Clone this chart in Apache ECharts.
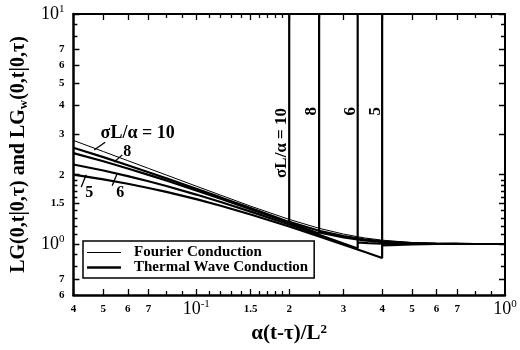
<!DOCTYPE html>
<html><head><meta charset="utf-8">
<script src="https://cdn.jsdelivr.net/npm/echarts@6/dist/echarts.min.js"></script>
<style>html,body{margin:0;padding:0;background:#fff}#c{width:520px;height:350px}</style>
</head><body><div id="c"></div>
<script>
// ---------------- data ----------------
const fourierX = [0.04,0.05,0.06,0.07,0.08,0.1,0.12,0.15,0.2,0.25,0.3,0.35,0.4,0.5,0.6,0.7,0.8,1.0];
const fourierY = [2.821,2.523,2.303,2.132,1.995,1.784,1.630,1.460,1.279,1.170,1.104,1.063,1.039,1.014,1.005,1.002,1.001,1.000];

const SPIKE = 20; // wave-front pulse, far above the plotted range
const wave10X = [0.04,0.05,0.06,0.07,0.08,0.1,0.12,0.15,0.2,0.2,0.2,0.25,0.3,0.35,0.4,0.5,0.6,0.7,0.8,1.0];
const wave10Y = [2.620,2.385,2.200,2.051,1.929,1.738,1.594,1.432,1.246,SPIKE,1.248,1.142,1.082,1.047,1.027,1.009,1.004,1.001,1.000,1.000];
const wave8X  = [0.04,0.05,0.06,0.07,0.08,0.1,0.12,0.15,0.2,0.25,0.25,0.25,0.3,0.35,0.4,0.5,0.6,0.7,0.8,1.0];
const wave8Y  = [2.484,2.290,2.130,1.998,1.887,1.710,1.573,1.417,1.236,1.110,SPIKE,1.124,1.068,1.037,1.020,1.006,1.002,1.001,1.000,1.000];
const wave6X  = [0.04,0.05,0.06,0.07,0.08,0.1,0.12,0.15,0.2,0.25,0.3,0.3333,0.3333,0.3333,0.36,0.4,0.5,0.6,0.7,0.8,1.0];
const wave6Y  = [2.216,2.086,1.973,1.874,1.786,1.640,1.523,1.382,1.215,1.096,1.005,0.956,SPIKE,1.016,1.009,1.004,1.000,1.000,1.000,1.000,1.000];
const wave5X  = [0.04,0.05,0.06,0.07,0.08,0.1,0.12,0.15,0.2,0.25,0.3,0.35,0.4,0.4,0.4,0.45,0.5,0.6,0.7,0.8,1.0];
const wave5Y  = [2.004,1.911,1.828,1.752,1.684,1.566,1.466,1.344,1.192,1.079,0.993,0.925,0.869,SPIKE,0.987,0.991,0.995,1.000,1.001,1.000,1.000];

const xMajorTicks = [0.04,0.05,0.06,0.07,0.1,0.15,0.2,0.3,0.4,0.5,0.6,0.7,1];
const xTickLabels = ['4','5','6','7','10|-1','1.5','2','3','4','5','6','7','10|0'];
const xMinorTicks = [0.08,0.09,0.11,0.12,0.13,0.14,0.16,0.17,0.18,0.19,0.25,0.8,0.9];
const yMajorTicks = [0.6,0.7,1,1.5,2,3,4,5,6,7,10];
const yTickLabels = ['6','7','10|0','1.5','2','3','4','5','6','7','10|1'];
const yMinorTicks = [0.8,0.9,1.1,1.2,1.3,1.4,1.6,1.7,1.8,1.9,8,9];

// annotations, anchored in data coordinates
const curveLabels = [
  {text:'σL/α = 10', x:0.0490, y:3.03, align:'left'},
  {text:'8', x:0.0580, y:2.51, align:'left'},
  {text:'5', x:0.0450, y:1.67, align:'center'},
  {text:'6', x:0.0567, y:1.67, align:'center'}
];
const leaderLines = [
  [0.0467,2.56,0.0507,2.77],
  [0.0542,2.27,0.0576,2.44],
  [0.0424,1.77,0.0440,2.00],
  [0.0534,1.79,0.0554,2.02]
];
const frontLabels = [
  {text:'σL/α = 10', x:0.189, y:2.75},
  {text:'8', x:0.236, y:3.78},
  {text:'6', x:0.3154, y:3.78},
  {text:'5', x:0.3797, y:3.78}
];

// ---------------- chart ----------------
const SERIF = '"Liberation Serif", "Times New Roman", serif';
const X0 = 0.04, X1 = 1, Y0 = 0.6, Y1 = 10;
const pairs = (xs, ys) => xs.map((x, i) => [x, ys[i]]);
const fmt = (ticks, labels) => v => {
  let best = 0, d = Infinity;
  ticks.forEach((t, i) => { const dd = Math.abs(Math.log(t) - Math.log(v)); if (dd < d) { d = dd; best = i; } });
  const lab = labels[best];
  if (lab.indexOf('|') >= 0) { const p = lab.split('|'); return '{b|' + p[0] + '}{s|' + p[1] + '}'; }
  return '{n|' + lab + '}';
};
const rich = {
  n: {fontFamily: SERIF, fontWeight: 'bold', fontSize: 11, color: '#000', lineHeight: 20},
  b: {fontFamily: SERIF, fontWeight: 'normal', fontSize: 18, color: '#000', lineHeight: 20},
  s: {fontFamily: SERIF, fontWeight: 'normal', fontSize: 11, color: '#000', lineHeight: 12, verticalAlign: 'top'}
};
function axis(kind, pos, lineW, ticks, labels) {
  const a = {
    type: 'log', logBase: 10, position: pos,
    min: kind === 'x' ? X0 : Y0, max: kind === 'x' ? X1 : Y1,
    splitLine: {show: false}, minorTick: {show: false}, minorSplitLine: {show: false},
    axisLine: {show: true, onZero: false, lineStyle: {color: '#000', width: lineW}},
    axisTick: {show: false},
    axisLabel: {show: false},
    axisPointer: {show: false}
  };
  if (labels) {
    a.axisLabel = {show: true, customValues: ticks.slice(), formatter: fmt(ticks, labels), rich: rich,
      margin: kind === 'x' ? 4 : 9};
  }
  return a;
}
const xMain = axis('x', 'bottom', 2.5, xMajorTicks, xTickLabels);
xMain.name = 'α(t-τ)/L{sup|2}';
xMain.nameLocation = 'middle';
xMain.nameGap = 28;
xMain.nameTextStyle = {fontFamily: SERIF, fontWeight: 'bold', fontSize: 21, color: '#000', lineHeight: 22,
  rich: {sup: {fontFamily: SERIF, fontWeight: 'bold', fontSize: 13, lineHeight: 12, verticalAlign: 'top', color: '#000'}}};
const yMain = axis('y', 'left', 2.5, yMajorTicks, yTickLabels);
yMain.name = 'LG(0,t|0,τ) and LG{sub|w}(0,t|0,τ)';
yMain.nameLocation = 'middle';
yMain.nameRotate = 90;
yMain.nameGap = 43;
yMain.nameTextStyle = {fontFamily: SERIF, fontWeight: 'bold', fontSize: 20, color: '#000', lineHeight: 22,
  rich: {sub: {fontFamily: SERIF, fontWeight: 'bold', fontSize: 13, lineHeight: 22, verticalAlign: 'bottom', color: '#000'}}};

const waves = [[wave10X, wave10Y], [wave8X, wave8Y], [wave6X, wave6Y], [wave5X, wave5Y]];

const baseSeries = [
  {name: 'Fourier Conduction', type: 'line', xAxisIndex: 0, yAxisIndex: 0, data: pairs(fourierX, fourierY),
    symbol: 'none', lineStyle: {color: '#000', width: 1}, itemStyle: {color: '#000'}, z: 3}
].concat(waves.map(w => ({
  name: 'Thermal Wave Conduction', type: 'line', xAxisIndex: 0, yAxisIndex: 0, data: pairs(w[0], w[1]),
  symbol: 'none', lineStyle: {color: '#000', width: 2.2}, itemStyle: {color: '#000'}, z: 2
})));

const chart = echarts.init(document.getElementById('c'), null, {renderer: 'canvas'});
chart.setOption({
  animation: false,
  backgroundColor: '#fff',
  color: ['#000'],
  grid: {left: 71, right: 15, top: 14, bottom: 53, containLabel: false},
  xAxis: [xMain, axis('x', 'top', 2)],
  yAxis: [yMain, axis('y', 'right', 2)],
  legend: {
    left: 83, top: 241, orient: 'vertical',
    data: [
      {name: 'Fourier Conduction', icon: 'path://M0,0L34,0L34,1L0,1Z'},
      {name: 'Thermal Wave Conduction', icon: 'path://M0,0L34,0L34,2.5L0,2.5Z'}
    ],
    borderColor: '#000', borderWidth: 1.5, borderRadius: 0,
    padding: [4, 6, 3, 4],
    itemWidth: 34, itemHeight: 10, itemGap: 0,
    textStyle: {fontFamily: SERIF, fontWeight: 'bold', fontSize: 15, color: '#000', padding: [0, 0, 0, 8]}
  },
  series: baseSeries
});

const px = (x, y) => chart.convertToPixel({xAxisIndex: 0, yAxisIndex: 0}, [x, y]);

// ---- tick marks: short segments in data space, drawn by a 'lines' series on the same log axes ----
// pixels per decade, measured through the library at interior points
const pyDec = px(0.1, 1)[1] - px(0.1, 10)[1];
const pxDec = px(0.5, 1)[0] - px(0.05, 1)[0];
const yStep = len => Math.pow(10, len / pyDec);
const xStep = len => Math.pow(10, len / pxDec);
const tickSegs = [];
[[xMajorTicks, 6], [xMinorTicks, 4]].forEach(([vals, len]) => vals.forEach(v => {
  tickSegs.push({coords: [[v, Y0], [v, Y0 * yStep(len)]]});
  tickSegs.push({coords: [[v, Y1], [v, Y1 / yStep(len)]]});
}));
[[yMajorTicks, 6], [yMinorTicks, 4]].forEach(([vals, len]) => vals.forEach(v => {
  tickSegs.push({coords: [[X0, v], [X0 * xStep(len), v]]});
  tickSegs.push({coords: [[X1, v], [X1 / xStep(len), v]]});
}));
const tickSeries = {
  type: 'lines', coordinateSystem: 'cartesian2d', xAxisIndex: 0, yAxisIndex: 0,
  polyline: false, silent: true, animation: false, z: 6,
  effect: {show: false},
  lineStyle: {color: '#000', width: 1.3, opacity: 1, curveness: 0},
  data: tickSegs
};

// ---- annotations ----
const g = [];
const seg = (x1, y1, x2, y2, w) => ({type: 'line', silent: true,
  shape: {x1: x1, y1: y1, x2: x2, y2: y2}, style: {stroke: '#000', lineWidth: w}});
curveLabels.forEach(l => {
  const p = px(l.x, l.y);
  const fs = l.text.length > 2 ? 18 : 16;
  g.push({type: 'text', x: p[0], y: p[1], silent: true,
    style: {text: l.text, fill: '#000', font: 'bold ' + fs + 'px ' + SERIF, align: l.align, verticalAlign: 'middle'}});
});
leaderLines.forEach(s => {
  const a = px(s[0], s[1]), b = px(s[2], s[3]);
  g.push(seg(a[0], a[1], b[0], b[1], 1.3));
});
frontLabels.forEach(l => {
  const p = px(l.x, l.y);
  g.push({type: 'text', x: p[0], y: p[1], rotation: Math.PI / 2, silent: true,
    style: {text: l.text, fill: '#000', font: 'bold 17px ' + SERIF, align: 'center', verticalAlign: 'middle'}});
});
chart.setOption({graphic: g, series: baseSeries.concat([tickSeries])});
</script></body></html>
